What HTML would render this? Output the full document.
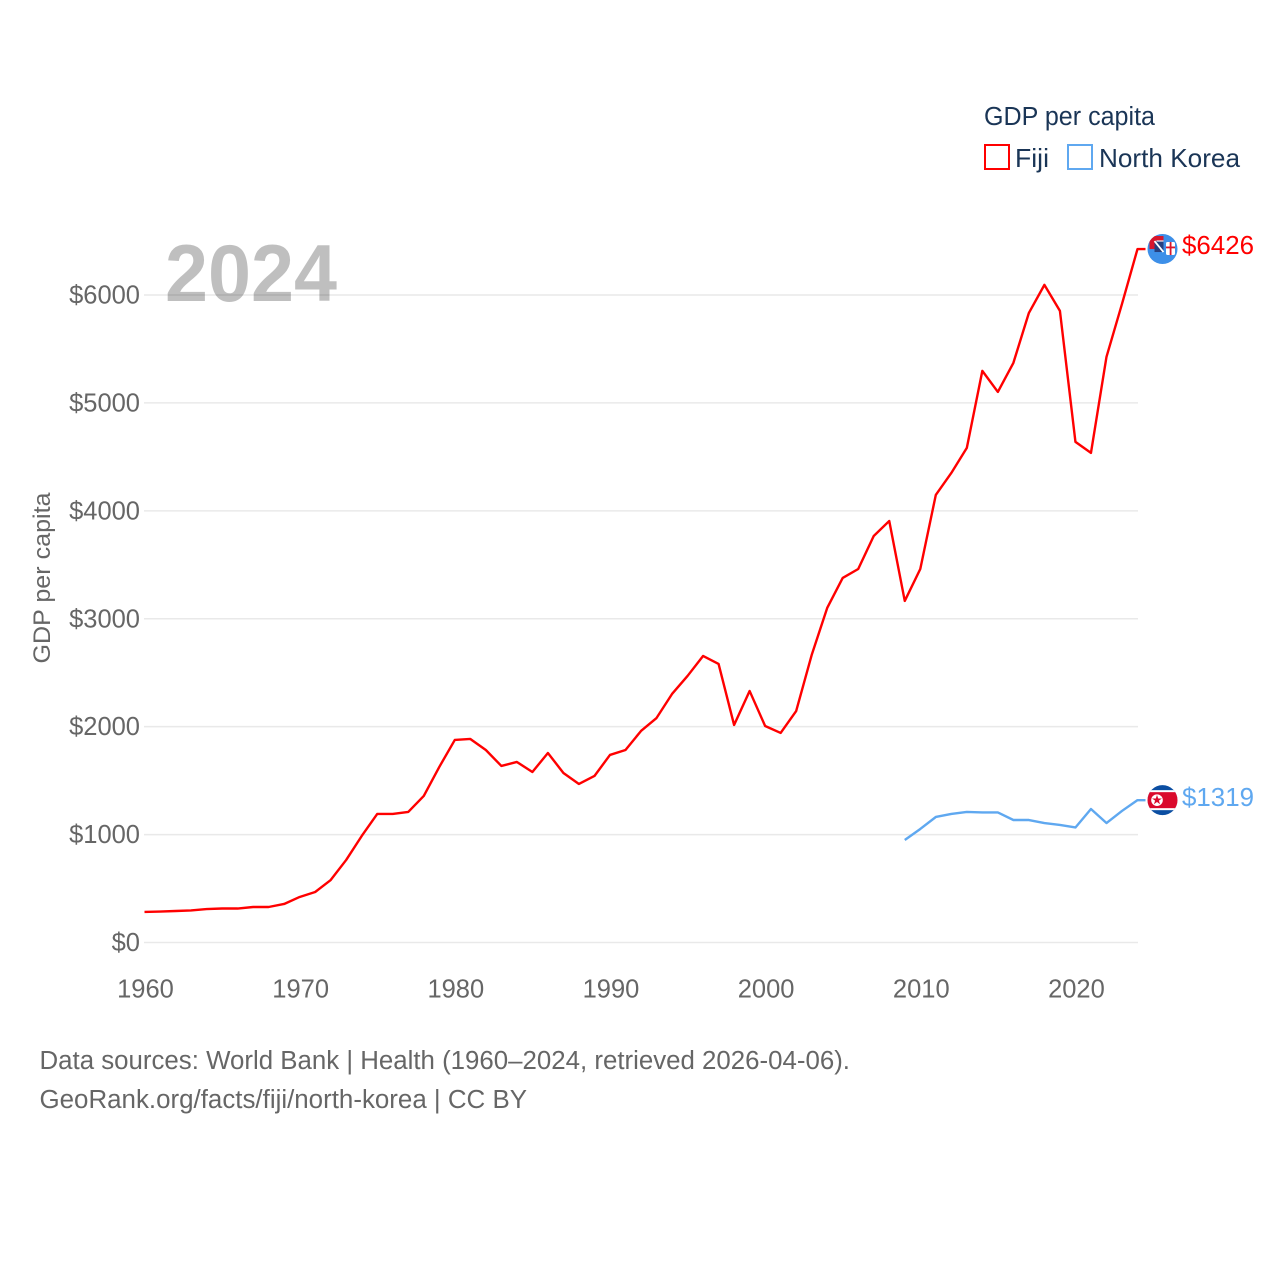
<!DOCTYPE html>
<html lang="en">
<head>
<meta charset="utf-8">
<title>GDP per capita: Fiji and North Korea</title>
<style>
html,body{margin:0;padding:0;background:#fff;width:1280px;height:1280px;overflow:hidden}
svg{display:block}
text{font-family:"Liberation Sans",sans-serif}
</style>
</head>
<body>
<svg id="chart" xmlns="http://www.w3.org/2000/svg" width="1280" height="1280" viewBox="0 0 1280 1280">
  <defs>
    <clipPath id="fiji-clip"><circle cx="0" cy="0" r="15"></circle></clipPath>
    <clipPath id="nk-clip"><circle cx="0" cy="0" r="15"></circle></clipPath>
  </defs>
  <g id="grid"></g>
  <text x="165" y="301" font-size="81" font-weight="700" fill="#000" fill-opacity="0.25" textLength="172" lengthAdjust="spacingAndGlyphs">2024</text>
  <g id="y-ticks"></g>
  <g id="x-ticks"></g>
  <text transform="translate(50,578) rotate(-90)" text-anchor="middle" font-size="24" fill="#666" textLength="171" lengthAdjust="spacingAndGlyphs">GDP per capita</text>
  <g id="series"></g>

  <g id="fiji-flag">
    <g clip-path="url(#fiji-clip)">
      <rect x="-16" y="-16" width="32" height="32" fill="#3d8fe8"></rect>
      <rect x="-13" y="-13" width="14" height="13" fill="#d8162c"></rect>
      <rect x="-8" y="-8" width="9" height="11" fill="#27407f"></rect>
      <path d="M-8-8L1 3" stroke="#fff" stroke-width="1.8"></path>
      <path d="M-6-8L1-8" stroke="#e8e8f0" stroke-width="1.2"></path>
      <rect x="3.5" y="-7" width="9" height="13" rx="1.5" fill="#fff"></rect>
      <rect x="3.5" y="-2.5" width="9" height="1.8" fill="#d8162c"></rect>
      <rect x="7.2" y="-7" width="1.8" height="13" fill="#d8162c"></rect>
    </g>
  </g>
  <g id="nk-flag">
    <g clip-path="url(#nk-clip)">
      <rect x="-16" y="-16" width="32" height="32" fill="#0b4ea2"></rect>
      <rect x="-16" y="-10" width="32" height="20" fill="#fff"></rect>
      <rect x="-16" y="-8" width="32" height="16" fill="#da0a2c"></rect>
      <circle cx="-5.5" cy="0" r="5.8" fill="#fff"></circle>
      <polygon points="-5.5,-5.2 -4.3,-1.7 -0.6,-1.7 -3.6,0.5 -2.4,4.1 -5.5,1.9 -8.6,4.1 -7.4,0.5 -10.4,-1.7 -6.7,-1.7" fill="#da0a2c"></polygon>
    </g>
  </g>
  <g id="value-labels"></g>

  <g>
    <text x="984" y="125" font-size="25.5" fill="#1a3556" textLength="171" lengthAdjust="spacingAndGlyphs">GDP per capita</text>
    <g>
      <rect x="985" y="145" width="24" height="24" fill="#fff" stroke="#ff0000" stroke-width="2"></rect>
      <text x="1015" y="167" font-size="26" fill="#1a3556" textLength="34" lengthAdjust="spacingAndGlyphs">Fiji</text>
    </g>
    <g>
      <rect x="1068" y="145" width="24" height="24" fill="#fff" stroke="#5fa8f0" stroke-width="2"></rect>
      <text x="1099" y="167" font-size="26" fill="#1a3556" textLength="141" lengthAdjust="spacingAndGlyphs">North Korea</text>
    </g>
  </g>

  <text x="39.5" y="1069" font-size="25.5" fill="#666" textLength="810.5" lengthAdjust="spacingAndGlyphs">Data sources: World Bank | Health (1960–2024, retrieved 2026-04-06).</text>
  <text x="39.5" y="1108" font-size="25.5" fill="#666" textLength="487.5" lengthAdjust="spacingAndGlyphs">GeoRank.org/facts/fiji/north-korea | CC BY</text>
</svg>
<script>
const fijiStartYear = 1960;
const fijiValues = [283,287,292,297,310,315,315,329,329,357,422,468,579,765,987,1191,1191,1210,1358,1627,1877,1886,1784,1636,1673,1580,1756,1571,1469,1543,1738,1784,1960,2080,2303,2470,2655,2581,2016,2331,2006,1942,2145,2664,3100,3378,3461,3767,3906,3165,3461,4147,4351,4583,5297,5102,5371,5834,6094,5853,4639,4537,5426,5917,6426];
const northKoreaStartYear = 2009;
const northKoreaValues = [950,1052,1163,1191,1210,1205,1205,1135,1135,1107,1089,1066,1237,1107,1219,1319];
const yTickValues = [0,1000,2000,3000,4000,5000,6000];
const xTickYears = [1960,1970,1980,1990,2000,2010,2020];

const NS = 'http://www.w3.org/2000/svg';
const xScale = year => 144.5 + (year - 1960) * (1137.5 - 144.5) / 64;
const yScale = value => 942.5 - value * (942.5 - 295) / 6000;

function make(parent, tag, attrs, content) {
  const el = document.createElementNS(NS, tag);
  for (const k in attrs) el.setAttribute(k, attrs[k]);
  if (content !== undefined) el.textContent = content;
  parent.appendChild(el);
  return el;
}

const gridGroup = document.getElementById('grid');
const yTickGroup = document.getElementById('y-ticks');
yTickValues.forEach(v => {
  const line = make(gridGroup, 'line', {x1: 144, x2: 1138, y1: yScale(v), y2: yScale(v), stroke: '#e9e9e9', 'stroke-width': 1.5});
  
  
  const label = make(yTickGroup, 'text', {x: 140, y: yScale(v) + 8.5, 'text-anchor': 'end', 'font-size': 25.5, fill: '#666'}, '$' + v);
  
  
});

const xTickGroup = document.getElementById('x-ticks');
xTickYears.forEach(y => {
  const label = make(xTickGroup, 'text', {x: xScale(y) + 1, y: 997.5, 'text-anchor': 'middle', 'font-size': 25.5, fill: '#666'}, String(y));
  
  
});

function linePath(startYear, values) {
  let d = values.map((v, i) => (i ? 'L' : 'M') + xScale(startYear + i).toFixed(2) + ' ' + yScale(v).toFixed(2)).join('');
  const last = yScale(values[values.length - 1]);
  return d + 'L' + (xScale(2024) + 8).toFixed(2) + ' ' + last.toFixed(2);
}

const seriesGroup = document.getElementById('series');
const fijiLine = make(seriesGroup, 'path', {d: linePath(fijiStartYear, fijiValues), fill: 'none', stroke: '#ff0000', 'stroke-width': 2.4, 'stroke-linejoin': 'round'});


const nkLine = make(seriesGroup, 'path', {d: linePath(northKoreaStartYear, northKoreaValues), fill: 'none', stroke: '#5fa8f0', 'stroke-width': 2.4, 'stroke-linejoin': 'round'});



const fijiLast = fijiValues[fijiValues.length - 1];
const nkLast = northKoreaValues[northKoreaValues.length - 1];
document.getElementById('fiji-flag').setAttribute('transform', 'translate(1162.5,' + yScale(fijiLast) + ')');
document.getElementById('nk-flag').setAttribute('transform', 'translate(1162.5,' + yScale(nkLast) + ')');

const labelGroup = document.getElementById('value-labels');
const fijiLabel = make(labelGroup, 'text', {x: 1182, y: yScale(fijiLast) + 5, 'font-size': 25.5, fill: '#ff0000', textLength: 72, lengthAdjust: 'spacingAndGlyphs'}, '$' + fijiLast);


const nkLabel = make(labelGroup, 'text', {x: 1182, y: yScale(nkLast) + 6, 'font-size': 25.5, fill: '#5fa8f0', textLength: 72, lengthAdjust: 'spacingAndGlyphs'}, '$' + nkLast);


</script>
</body>
</html>
